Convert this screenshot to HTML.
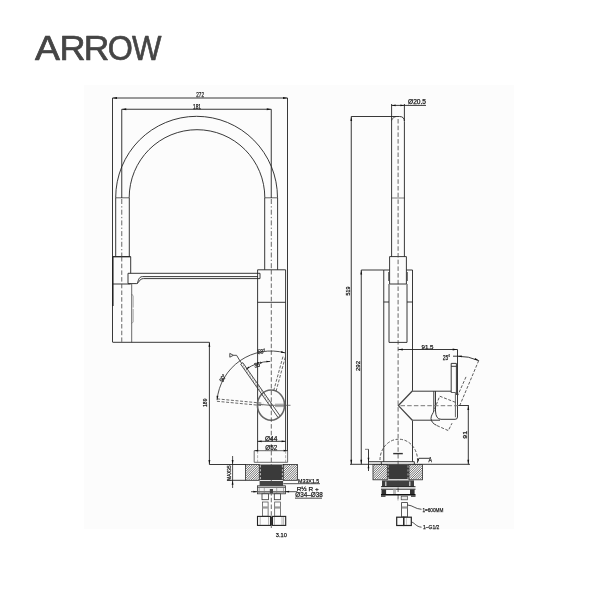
<!DOCTYPE html>
<html>
<head>
<meta charset="utf-8">
<title>ARROW faucet drawing</title>
<style>
html,body{margin:0;padding:0;background:#fff;}
body{width:600px;height:600px;overflow:hidden;position:relative;font-family:"Liberation Sans",sans-serif;}
#panel{position:absolute;left:84px;top:85px;width:430px;height:444px;background:#fcfcfc;}
svg{position:absolute;left:0;top:0;will-change:transform;}
svg text{font-family:"Liberation Sans",sans-serif;fill:#222;}
svg #labels text{fill:#1a1a1a;stroke:#1a1a1a;stroke-width:0.25px;}
svg #logo text{fill:#454545;stroke:#454545;stroke-width:0.7px;stroke-linejoin:round;}
</style>
</head>
<body>
<div id="panel"></div>
<svg width="600" height="600" viewBox="0 0 600 600">

<g id="logo" font-size="35.9" style="fill:#444;stroke:#444;stroke-width:0.35px">
<text transform="translate(35.11 59.7) scale(1.042 1)">A</text>
<text transform="translate(59.61 59.7) scale(1.006 1)">R</text>
<text transform="translate(83.67 59.7) scale(0.987 1)">R</text>
<text transform="translate(107.85 59.7) scale(0.899 1)">O</text>
<text transform="translate(132.04 59.7) scale(0.870 1)">W</text>
</g>
<!-- ================= LEFT VIEW ================= -->
<g id="left" fill="none" stroke="#222" stroke-width="0.9" stroke-linecap="butt">
<!-- dim 272 -->
<path d="M112.5 98H287.5"/>
<path d="M112.5 98V342"/>
<path d="M287.5 98V451"/>
<!-- dim 181 -->
<path d="M121.75 109.25H271.25"/>
<path d="M121.75 109.25V198"/>
<path d="M271.25 109.25V198"/>
<!-- arcs -->
<path d="M115.7 197.6A40.45 40.65 0 0 1 277.5 197.6"/>
<path d="M129.2 197.6A34 34.05 0 0 1 264.8 197.6"/>
<path d="M115.7 197.8H129.2M264.8 197.8H277.5" stroke-width="0.7"/>
<!-- tubes -->
<path d="M115.7 197.6V256.7M129.3 197.6V256.7"/>
<path d="M264.7 197.6V269.8M277.6 197.6V269.8"/>
<!-- spray head -->
<path d="M112.5 256.7H130.7" stroke-width="1.3"/>
<path d="M130.7 256.7V273.3M130.7 284H112.5" stroke-width="0.9"/>
<path d="M131.7 284V342.3" stroke="#444" stroke-width="0.8"/>
<path d="M112.8 256.7V306" stroke-width="1.5"/>
<path d="M131.7 294L133.2 296V307.5M133.2 309V322L131.7 323.5" stroke-width="0.5" stroke="#555"/>
<!-- arm -->
<path d="M128 273.3H260"/>
<path d="M128 273.3V283.6H136.5C139 283.6 139 278.6 143.5 278.6H260"/>
<path d="M137 283.6C138.5 281 138.5 276.6 142.5 276.6H258"/>
<path d="M260 273.3V278.6"/>
<!-- main body -->
<path d="M257.6 269.8H285.6V450.7M257.6 269.8V450.7"/>
<path d="M257.6 302.3H285.6"/>
<!-- bottom line of spray head to dim 189 -->
<path d="M112.5 342.3H209.4"/>
<path d="M209.4 342.3V464.5"/>
<path d="M209.4 464.5H245.5"/>
<!-- handle circle -->
<ellipse cx="271" cy="405.1" rx="13.6" ry="15.1" stroke-width="1.6" stroke="#666"/>
<!-- dims 44 / 52 -->
<path d="M257.6 441.3H285.6"/>
<!-- flange -->
<path d="M254.2 450.7H287.6V462.3H254.2Z" stroke="#444" stroke-width="0.8"/>
<path d="M257.6 450.7V462.3M285.6 450.7V462.3" stroke="#777" stroke-width="0.6" stroke-dasharray="3 1.5"/>
<!-- deck -->

<path d="M227 480.3H245.5"/>
</g>

<!-- dashed centre lines left -->
<g fill="none" stroke="#444" stroke-width="0.8" stroke-dasharray="4.5 2.2">
<path d="M121.75 199V257" stroke-dasharray="5 2.2 1.3 2.2"/>
<path d="M121.75 257V342"/>
<path d="M271.3 199V270" stroke-dasharray="5 2.2 1.3 2.2"/>
<path d="M271.3 270V528"/>
</g>

<!-- arrowheads left view -->
<g fill="#111" stroke="none">
<path d="M112.5 98l4.5 -0.9v1.8z"/>
<path d="M287.5 98l-4.5 -0.9v1.8z"/>
<path d="M121.75 109.25l4.5 -0.9v1.8z"/>
<path d="M271.25 109.25l-4.5 -0.9v1.8z"/>
<path d="M209.4 342.3l-0.9 4.5h1.8z"/>
<path d="M209.4 464.5l-0.9 -4.5h1.8z"/>
<path d="M254.2 450.7l4 -0.9v1.8z"/>
<path d="M287.6 450.7l-4 -0.9v1.8z"/>
<path d="M257.6 441.3l4 -0.9v1.8z"/>
<path d="M285.6 441.3l-4 -0.9v1.8z"/>
</g>

<!-- handle lever + arcs -->
<g fill="none" stroke="#222" stroke-width="0.8">
<path d="M242.81 362.68 L280.09 415.92 M240.68 364.17 L277.97 417.41 M242.81 362.68 L240.68 364.17 M241.75 363.42 L239.91 360.80"/>
<path d="M243.96 364.32L242.75 367.12M245.45 366.45L244.24 369.25M246.94 368.58L245.73 371.38M248.43 370.71L247.22 373.51M249.92 372.84L248.71 375.64M251.42 374.96L250.20 377.77M252.91 377.09L251.70 379.90M254.40 379.22L253.19 382.03M255.89 381.35L254.68 384.16M257.38 383.48L256.17 386.29M258.87 385.61L257.66 388.42M260.36 387.74L259.15 390.55M261.86 389.87L260.64 392.68M263.35 392.00L262.13 394.81M264.84 394.13L263.63 396.93M266.33 396.26L265.12 399.06M267.82 398.39L266.61 401.19M269.31 400.52L268.10 403.32M270.80 402.65L269.59 405.45" stroke-width="0.45" stroke="#555"/>
<path d="M217.04 400.10 A54.2 54.2 0 0 1 285.21 352.90"/>
<path d="M245.88 369.32 A43.8 43.8 0 0 1 270.24 361.41"/>
<path d="M229.8 353.4l3.6 1.9l-3.6 1.9zM233.4 355.3H236.6L239.91 360.80"/>
<path d="M271 405.3H290.5" stroke="#555"/>
<path d="M275 404.2H284.5M275 406.6H284.5" stroke="#666" stroke-width="0.6"/>
<path d="M257.5 404.2L271 405.4" stroke="#444"/>
</g>
<g fill="none" stroke="#444" stroke-width="0.8" stroke-dasharray="3 1.6">
<path d="M217.15 398.90 L263.15 403.25 M216.93 401.29 L262.92 405.64"/>
<path d="M285.27 357.26 L275.83 392.00 M282.95 356.63 L273.51 391.38"/>
</g>
<g fill="#111" stroke="none">
<path d="M217.04 400.10L216.54 395.83L218.33 396.00Z"/><path d="M285.21 352.90L280.92 352.66L281.39 350.93Z"/><path d="M270.24 361.41L266.45 362.27L266.42 360.67Z"/><path d="M245.88 369.32L248.53 366.49L249.45 367.80Z"/>
</g>

<!-- deck / thread / hoses left -->
<g stroke="#222" stroke-width="0.8">
<clipPath id="h1"><rect x="245.50" y="464.50" width="13.80" height="15.80"/></clipPath>
<rect x="245.50" y="464.50" width="13.80" height="15.80" fill="#fbfbfb" stroke="#222" stroke-width="0.8"/>
<path d="M230.00 480.30 l15.80 -15.80M232.30 480.30 l15.80 -15.80M234.60 480.30 l15.80 -15.80M236.90 480.30 l15.80 -15.80M239.20 480.30 l15.80 -15.80M241.50 480.30 l15.80 -15.80M243.80 480.30 l15.80 -15.80M246.10 480.30 l15.80 -15.80M248.40 480.30 l15.80 -15.80M250.70 480.30 l15.80 -15.80M253.00 480.30 l15.80 -15.80M255.30 480.30 l15.80 -15.80M257.60 480.30 l15.80 -15.80" clip-path="url(#h1)" fill="none" stroke="#555" stroke-width="0.85"/>
<clipPath id="h2"><rect x="283.30" y="464.50" width="14.20" height="15.80"/></clipPath>
<rect x="283.30" y="464.50" width="14.20" height="15.80" fill="#fbfbfb" stroke="#222" stroke-width="0.8"/>
<path d="M267.80 480.30 l15.80 -15.80M270.10 480.30 l15.80 -15.80M272.40 480.30 l15.80 -15.80M274.70 480.30 l15.80 -15.80M277.00 480.30 l15.80 -15.80M279.30 480.30 l15.80 -15.80M281.60 480.30 l15.80 -15.80M283.90 480.30 l15.80 -15.80M286.20 480.30 l15.80 -15.80M288.50 480.30 l15.80 -15.80M290.80 480.30 l15.80 -15.80M293.10 480.30 l15.80 -15.80M295.40 480.30 l15.80 -15.80" clip-path="url(#h2)" fill="none" stroke="#555" stroke-width="0.85"/>
<rect x="259.3" y="464.5" width="24" height="15.6" fill="#3a3a3a" stroke="none"/>
<rect x="259.6" y="481" width="23.5" height="5" fill="#444" stroke="none"/>
<path d="M260.4 465.3V479.6M282.4 465.3V479.6" stroke="#e8e8e8" stroke-width="0.8" stroke-dasharray="2.2 1.7" fill="none"/>
<rect x="257.4" y="485.8" width="28" height="8" fill="#f0f0f0" stroke="#333"/>
<path d="M257.4 487.3H285.4" fill="none" stroke="#333" stroke-width="0.8"/>
<path d="M257.4 491.8H285.4" fill="none" stroke="#777" stroke-width="1.6"/>
<path d="M259.2 487.5V493.5M264.3 488V493.5M276.7 488V493.5M283.5 487.5V493.5" fill="none" stroke="#777" stroke-width="0.6"/>
<rect x="269.8" y="489" width="3.2" height="4.4" fill="#444" stroke="none"/>
<!-- hoses -->
<rect x="262" y="493.8" width="6.4" height="5.9" fill="#fcfcfc" stroke="#333"/>
<rect x="274.3" y="493.8" width="6.2" height="5.9" fill="#fcfcfc" stroke="#333"/>
<rect x="262.4" y="502" width="5.7" height="14.2" fill="#fcfcfc" stroke="#444" stroke-width="0.7"/>
<rect x="274.7" y="502" width="5.7" height="14.2" fill="#fcfcfc" stroke="#444" stroke-width="0.7"/>
<rect x="262.6" y="506.4" width="5.3" height="2.2" fill="#999" stroke="none"/>
<rect x="274.9" y="506.4" width="5.3" height="2.2" fill="#999" stroke="none"/>
<!-- hex nuts -->
<rect x="257.5" y="516.4" width="13" height="9" fill="#fcfcfc" stroke="#222" stroke-width="1.1"/>
<rect x="272.5" y="516.4" width="13.2" height="9" fill="#fcfcfc" stroke="#222" stroke-width="1.1"/>
<path d="M260.2 517V525M268.5 517V525M274.5 517V525M282 517V525M283.6 517V525" fill="none" stroke="#888" stroke-width="0.6"/>
<path d="M271.5 516.4V525.4" fill="none" stroke="#333" stroke-width="1.6"/>
</g>

<!-- MAX35 dim, leaders left -->
<g fill="none" stroke="#222" stroke-width="0.8">
<path d="M232.6 456V488"/>
<path d="M283.3 483.7H320"/>
<path d="M285.1 491.7H297M251 491.7H257.3"/>
<path d="M295 498.2H322"/>
</g>
<g fill="#111" stroke="none">
<path d="M232.6 464.5l-0.9 -4.5h1.8z"/>
<path d="M232.6 480.3l-0.9 4.5h1.8z"/>
<path d="M257.3 491.7l-4 -0.9v1.8z"/>
<path d="M285.1 491.7l4 -0.9v1.8z"/>
</g>

<!-- ================= RIGHT VIEW ================= -->
<g id="right" fill="none" stroke="#222" stroke-width="0.9">
<!-- tube -->
<path d="M391.6 256.6V116.5H399.5Q404.4 116.5 404.4 121.5V256.6"/>
<path d="M391.6 120.5Q392.3 117.3 396 116.5" stroke-width="0.6"/>
<path d="M391.6 104V117M404.4 104V121"/>
<path d="M391.6 105.4H426"/>
<path d="M391.6 198H404.4" stroke-width="0.6"/>
<!-- dim 519 -->
<path d="M351.25 116.5H391.6M351.25 116.5V464.3"/>
<!-- dim 292 -->
<path d="M361.25 270H383.75M361.25 270V464.3"/>
<!-- body -->
<path d="M383.75 461.7V270H389.6M406.4 270H412.5V390.8"/>
<path d="M412.5 420.5V461.7"/>
<path d="M383.75 302H389M407 302H412.5"/>
<!-- spray head -->
<path d="M389.6 256.6H406.4V284H389.6Z"/>
<path d="M389 284V342.4H407V284"/>
<path d="M388.6 272V281M407.4 272V281" stroke-width="0.7"/>
<!-- dim 91.5 -->
<path d="M398.25 349.5H457.5V395"/>
<!-- side valve -->
<path d="M412.3 391L398.4 405.6L412.3 420.2" stroke-width="1.3" stroke="#444"/>
<path d="M412.3 391.2H451.2M412.3 420.2H440"/>
<path d="M433.8 391.2V411C433.5 413 431 415 431 418.5C431 421.5 433.5 424 436.5 425.3"/>
<path d="M435.5 391.2V411Q435.8 419.3 441 419.3H455.2Q457.5 419.3 457.5 417V395"/>
<!-- handle -->
<path d="M451.2 392.5V363.4H456.4V395"/>
<path d="M451.2 366.3H456.4"/>
<path d="M451.2 392.5H455.4V417.2" stroke-width="0.7"/>
<!-- 91 dim -->
<path d="M458.2 405.5H468.8M468.3 405.5V464.3"/>
<!-- 25 deg arc -->
<path d="M453 356.2H457.5A49.4 49.4 0 0 1 478.7 360.6"/>
<!-- deck line -->
<path d="M350 464.3H470"/>
<!-- flange -->
<path d="M381.3 464.3V461.7H414.3V464.3"/>
<path d="M393.2 453.6H402.8" stroke="#333" stroke-width="1.4"/>
<!-- small dims -->
<path d="M368.5 449.3V471M368.5 461.7H381.3"/>
<path d="M365 449.3H368.5" stroke-width="0.6"/>
<path d="M417.3 462.8L418.8 458.3H429.3"/>
</g>

<g fill="none" stroke="#444" stroke-width="0.8" stroke-dasharray="4.5 2.2">
<path d="M398.1 119V500"/>
<path d="M400.5 405.7H458" stroke="#777" stroke-width="1"/>
</g>
<g fill="none" stroke="#333" stroke-width="0.8" stroke-dasharray="3 1.6">
<path d="M380 460A9.375 10.4 0 0 1 417.5 460"/>
<!-- tilted handle -->
<path d="M478.7 360.6L459 407.3"/>
<path d="M466 376.9L457.8 395.3"/>
<path d="M455.4 402.3L439.7 396.2L433.6 411.5"/>
<path d="M437 425.6L448.3 430.6L452 423.2"/>
</g>

<!-- arrowheads right -->
<g fill="#111" stroke="none">
<path d="M391.6 105.4l4 -0.9v1.8z"/>
<path d="M404.4 105.4l-4 -0.9v1.8z"/>
<path d="M351.25 116.5l-0.9 4.5h1.8z"/>
<path d="M351.25 464.3l-0.9 -4.5h1.8z"/>
<path d="M361.25 270l-0.9 4.5h1.8z"/>
<path d="M361.25 464.3l-0.9 -4.5h1.8z"/>
<path d="M398.25 349.5l4.5 -0.9v1.8z"/>
<path d="M457.2 349.5l-4.5 -0.9v1.8z"/>
<path d="M468.3 405.5l-0.9 4.5h1.8z"/>
<path d="M468.3 464.3l-0.9 -4.5h1.8z"/>
<path d="M368.5 461.7l-0.9 -4h1.8z"/>
<path d="M368.5 464.3l-0.9 4h1.8z"/>
<path d="M457.5 356.1l4.3 -0.7l0 1.8z"/>
<path d="M478.8 360.6l-4.4 -0.8l0.8 -1.9z"/>
<path d="M417.3 462.8l0.3 -3.8l1.5 0.5z"/>
</g>

<!-- deck / thread right -->
<g stroke="#222" stroke-width="0.8">
<clipPath id="h3"><rect x="373.00" y="464.60" width="14.30" height="15.20"/></clipPath>
<rect x="373.00" y="464.60" width="14.30" height="15.20" fill="#fbfbfb" stroke="#222" stroke-width="0.8"/>
<path d="M358.10 479.80 l15.20 -15.20M360.40 479.80 l15.20 -15.20M362.70 479.80 l15.20 -15.20M365.00 479.80 l15.20 -15.20M367.30 479.80 l15.20 -15.20M369.60 479.80 l15.20 -15.20M371.90 479.80 l15.20 -15.20M374.20 479.80 l15.20 -15.20M376.50 479.80 l15.20 -15.20M378.80 479.80 l15.20 -15.20M381.10 479.80 l15.20 -15.20M383.40 479.80 l15.20 -15.20M385.70 479.80 l15.20 -15.20" clip-path="url(#h3)" fill="none" stroke="#555" stroke-width="0.85"/>
<clipPath id="h4"><rect x="409.00" y="464.60" width="13.50" height="15.20"/></clipPath>
<rect x="409.00" y="464.60" width="13.50" height="15.20" fill="#fbfbfb" stroke="#222" stroke-width="0.8"/>
<path d="M394.10 479.80 l15.20 -15.20M396.40 479.80 l15.20 -15.20M398.70 479.80 l15.20 -15.20M401.00 479.80 l15.20 -15.20M403.30 479.80 l15.20 -15.20M405.60 479.80 l15.20 -15.20M407.90 479.80 l15.20 -15.20M410.20 479.80 l15.20 -15.20M412.50 479.80 l15.20 -15.20M414.80 479.80 l15.20 -15.20M417.10 479.80 l15.20 -15.20M419.40 479.80 l15.20 -15.20M421.70 479.80 l15.20 -15.20" clip-path="url(#h4)" fill="none" stroke="#555" stroke-width="0.85"/>
<rect x="387.2" y="464.6" width="21.8" height="14.6" fill="#3a3a3a" stroke="none"/>
<path d="M388.2 465.5V479M408 465.5V479" stroke="#e0e0e0" stroke-width="0.7" stroke-dasharray="2.2 1.7" fill="none"/>
<rect x="382" y="480.4" width="32" height="6.3" fill="#404040" stroke="none"/>
<path d="M385.8 481.5V486M409.8 481.5V486" stroke="#ddd" stroke-width="1.2" fill="none"/>
<path d="M381 486.7H415.5" stroke="#111" stroke-width="0.9" fill="none"/>
<path d="M381 489.2H415.5" stroke="#111" stroke-width="0.9" fill="none"/>
<rect x="381.5" y="489.5" width="4.6" height="4.8" fill="#333" stroke="none"/>
<rect x="410" y="489.5" width="4.6" height="4.8" fill="#333" stroke="none"/>
<rect x="393" y="489.6" width="3" height="4.6" fill="#bbb" stroke="none"/>
<path d="M381 494.8H415.5" stroke="#111" stroke-width="1.5" fill="none"/>
<path d="M381 496.2H385.5M411 496.2H415.5" stroke="#222" stroke-width="1.2" fill="none"/>
<rect x="401.2" y="496.2" width="6.3" height="3.6" fill="#e6e6e6" stroke="#444" stroke-width="0.7"/>
<path d="M398 497.5V500.5" stroke="#888" stroke-width="0.7" fill="none"/>
<rect x="401.6" y="502.6" width="5.9" height="14.4" fill="#fcfcfc" stroke="#333" stroke-width="0.8"/>
<rect x="401.8" y="506.4" width="5.5" height="2.2" fill="#999" stroke="none"/>
<rect x="396.7" y="517.2" width="6.9" height="8.3" fill="#fbfbfb" stroke="#222" stroke-width="1.2"/>
<rect x="403.9" y="517.2" width="7.4" height="8.3" fill="#fbfbfb" stroke="#222" stroke-width="1.2"/>
<path d="M406.5 518V525" stroke="#aaa" stroke-width="0.6" fill="none"/>
</g>
<g fill="none" stroke="#222" stroke-width="0.8">
<path d="M407.5 505C413 505.3 415 509 421.5 509.3"/>
<path d="M411.5 522C415 523 416 526.7 421.5 527.2"/>
</g>

<!-- ================= TEXT ================= -->
<g id="labels">
<text x="196.3" y="97.2" font-size="7.40" textLength="7.7" lengthAdjust="spacingAndGlyphs">272</text>
<text x="193.0" y="108.6" font-size="6.98" textLength="8.0" lengthAdjust="spacingAndGlyphs">181</text>
<text x="265.0" y="440.8" font-size="6.42" textLength="12.3" lengthAdjust="spacingAndGlyphs">Ø44</text>
<text x="265.3" y="449.9" font-size="6.56" textLength="12.0" lengthAdjust="spacingAndGlyphs">Ø52</text>
<text x="298.0" y="482.9" font-size="6.01" textLength="21.3" lengthAdjust="spacingAndGlyphs">M33X1.5</text>
<text x="296.7" y="490.8" font-size="6.15" textLength="22.0" lengthAdjust="spacingAndGlyphs">R½ R +</text>
<text x="295.3" y="496.8" font-size="6.70" textLength="27.4" lengthAdjust="spacingAndGlyphs">Ø34–Ø38</text>
<text x="275.8" y="536.8" font-size="5.59" textLength="11.0" lengthAdjust="spacingAndGlyphs">3.10</text>
<text transform="translate(207.2 407.0) rotate(-90)" font-size="5.87" textLength="8.5" lengthAdjust="spacingAndGlyphs">189</text>
<text transform="translate(231.0 480.7) rotate(-90)" font-size="5.87" textLength="15.2" lengthAdjust="spacingAndGlyphs">MAX35</text>
<text x="408.0" y="104.3" font-size="6.28" textLength="18.0" lengthAdjust="spacingAndGlyphs">Ø20.5</text>
<text transform="translate(349.8 295.5) rotate(-90)" font-size="6.15" textLength="9.0" lengthAdjust="spacingAndGlyphs">519</text>
<text transform="translate(360.2 371.0) rotate(-90)" font-size="6.15" textLength="10.0" lengthAdjust="spacingAndGlyphs">292</text>
<text x="421.5" y="348.9" font-size="6.01" textLength="12.0" lengthAdjust="spacingAndGlyphs">91.5</text>
<text x="442.8" y="359.5" font-size="6.84" textLength="7.4" lengthAdjust="spacingAndGlyphs">25°</text>
<text transform="translate(467.4 438.7) rotate(-90)" font-size="6.15" textLength="7.7" lengthAdjust="spacingAndGlyphs">91</text>
<text x="428.6" y="461.8" font-size="6.28" textLength="3.4" lengthAdjust="spacingAndGlyphs">A</text>
<text x="422.4" y="512.0" font-size="6.15" textLength="21.0" lengthAdjust="spacingAndGlyphs">1=600MM</text>
<text x="423.0" y="529.4" font-size="6.15" textLength="16.4" lengthAdjust="spacingAndGlyphs">1–G1/2</text>
<text transform="translate(261.5 351.2) rotate(-10.0)" x="-4.0" y="2.3" font-size="6.42" textLength="8.0" lengthAdjust="spacingAndGlyphs">58°</text>
<text transform="translate(258.0 364.6) rotate(-14.0)" x="-4.0" y="2.3" font-size="6.42" textLength="8.0" lengthAdjust="spacingAndGlyphs">35°</text>
<text transform="translate(222.8 378.0) rotate(-62.0)" x="-4.0" y="2.3" font-size="6.42" textLength="8.0" lengthAdjust="spacingAndGlyphs">90°</text>
</g>
</svg>
</body>
</html>
